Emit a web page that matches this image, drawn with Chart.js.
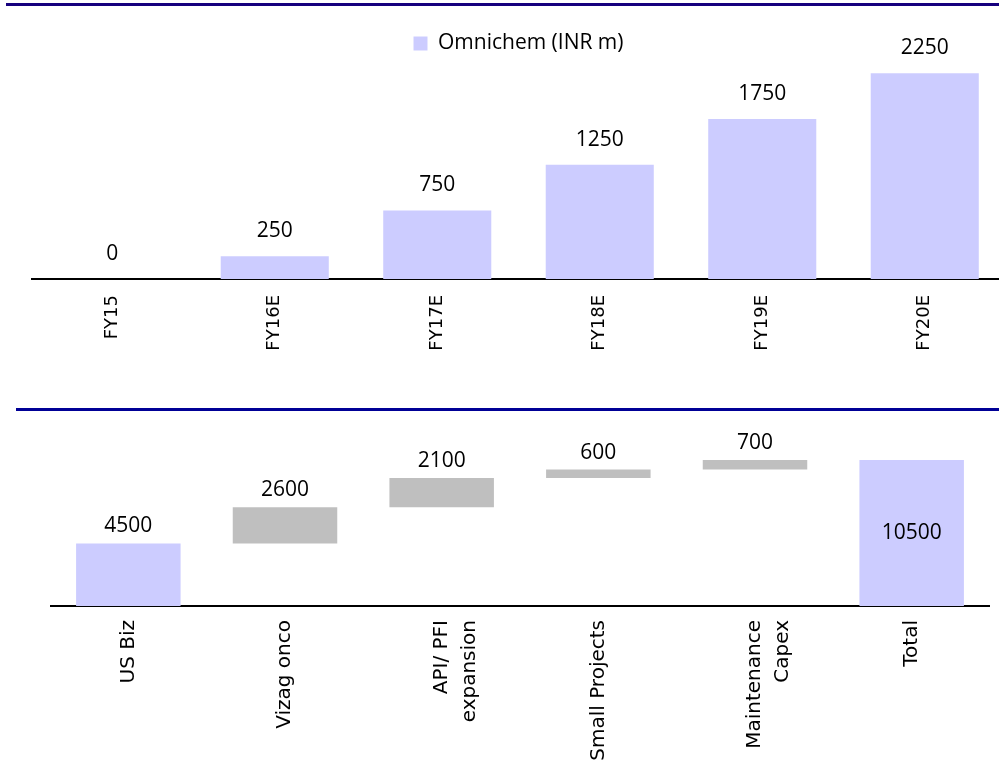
<!DOCTYPE html>
<html>
<head>
<meta charset="utf-8">
<script src="https://cdn.jsdelivr.net/npm/chart.js@4.4.0/dist/chart.umd.min.js"></script>
<style>
  html, body { margin: 0; padding: 0; background: #fff; overflow: hidden; width: 999px; height: 767px; }
  .rule { position: absolute; height: 3px; }
  #top-rule { left: 6px; top: 3px; width: 993px; background: #16007e; }
  #mid-rule { left: 16px; top: 408px; width: 983px; background: #000096; }
  #omnichem-box { position: absolute; left: 31px; top: 0; }
  #capex-box { position: absolute; left: 50px; top: 420px; }
</style>
</head>
<body>
<div class="rule" id="top-rule"></div>
<div id="omnichem-box"><canvas id="omnichem" width="975" height="400"></canvas></div>
<div class="rule" id="mid-rule"></div>
<div id="capex-box"><canvas id="capex" width="940" height="347"></canvas></div>
<script>
// top chart - Omnichem contribution
const years = ['FY15', 'FY16E', 'FY17E', 'FY18E', 'FY19E', 'FY20E'];
const omnichemValues = [0, 250, 750, 1250, 1750, 2250];

// bottom chart - capex waterfall
const capexLabels = ['US Biz', 'Vizag onco', ['API/ PFI', 'expansion'], 'Small Projects', ['Maintenance', 'Capex'], 'Total'];
const capexValues = [4500, 2600, 2100, 600, 700, 10500];
const capexIsTotal = [true, false, false, false, false, true];

const LAVENDER = '#CCCCFF';
const GREY = '#BFBFBF';

// draws the number above each bar (or inside it for the flagged ones)
function makeValueLabels(texts, gap, insideIdx) {
    return {
        id: 'valueLabels',
        afterDatasetsDraw(chart) {
            const ctx = chart.ctx;
            const meta = chart.getDatasetMeta(0);
            ctx.save();
            ctx.font = '21px "Open Sans"';
            ctx.fillStyle = '#000';
            ctx.textAlign = 'center';
            ctx.textBaseline = 'middle';
            meta.data.forEach((bar, i) => {
                let y;
                if (insideIdx.includes(i)) {
                    y = (bar.y + bar.base) / 2;
                } else {
                    y = Math.min(bar.y, bar.base) - gap;
                }
                ctx.fillText(String(texts[i]), bar.x, y);
            });
            ctx.restore();
        }
    };
}

new Chart(document.getElementById('omnichem'), {
    type: 'bar',
    data: {
        labels: years,
        datasets: [{
            label: 'Omnichem (INR m)',
            data: omnichemValues,
            backgroundColor: LAVENDER,
            borderWidth: 0,
            barPercentage: 0.665,
            categoryPercentage: 1
        }]
    },
    options: {
        responsive: false,
        animation: false,
        devicePixelRatio: 1,
        layout: { padding: { top: 23 } },
        plugins: {
            legend: {
                position: 'top',
                labels: {
                    font: { family: '"Open Sans"', size: 21 },
                    color: '#000',
                    boxWidth: 14,
                    boxHeight: 14,
                    padding: 10
                }
            },
            tooltip: { enabled: false }
        },
        scales: {
            x: {
                grid: { display: false, drawTicks: false },
                border: { display: true, color: '#000', width: 2 },
                ticks: { color: '#000', font: { family: '"DejaVu Sans"', size: 18 }, minRotation: 90, maxRotation: 90, padding: 16, autoSkip: false },
                afterFit: (s) => { s.height = 121; }
            },
            y: { display: false, min: 0, max: 2350 }
        }
    },
    plugins: [makeValueLabels(omnichemValues, 25, [])]
});

// waterfall: running totals turned into floating [start, end] bars
let running = 0;
const capexRanges = capexValues.map((v, i) => {
    if (capexIsTotal[i]) {
        running = v;
        return [0, v];
    }
    const start = running;
    running += v;
    return [start, running];
});

new Chart(document.getElementById('capex'), {
    type: 'bar',
    data: {
        labels: capexLabels,
        datasets: [{
            label: 'Capex',
            data: capexRanges,
            backgroundColor: capexIsTotal.map(t => t ? LAVENDER : GREY),
            borderWidth: 0,
            barPercentage: 0.667,
            categoryPercentage: 1
        }]
    },
    options: {
        responsive: false,
        animation: false,
        devicePixelRatio: 1,
        layout: { padding: { top: 19 } },
        plugins: {
            legend: { display: false },
            tooltip: { enabled: false }
        },
        scales: {
            x: {
                grid: { display: false, drawTicks: false },
                border: { display: true, color: '#000', width: 2 },
                ticks: { color: '#000', font: { family: '"DejaVu Sans"', size: 20, lineHeight: 1.4 }, minRotation: 90, maxRotation: 90, padding: 14, autoSkip: false },
                afterFit: (s) => { s.height = 161; }
            },
            y: { display: false, min: 0, max: 12000 }
        }
    },
    plugins: [makeValueLabels(capexValues, 17, [5])]
});
</script>
</body>
</html>
